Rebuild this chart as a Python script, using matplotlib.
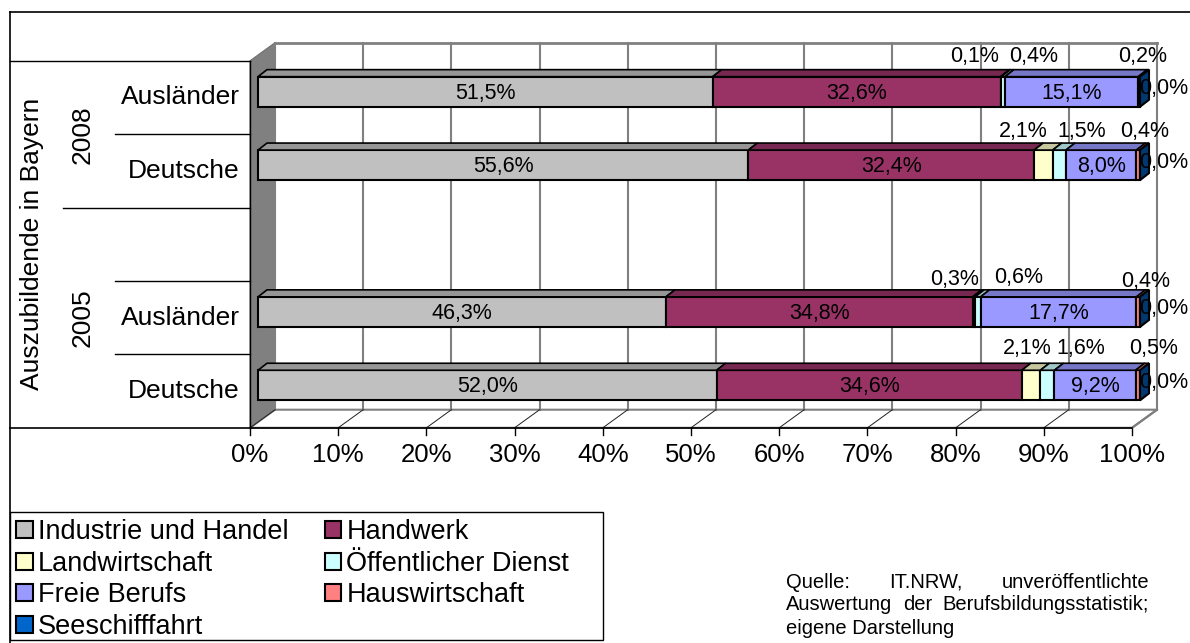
import numpy as np
import matplotlib
matplotlib.use('Agg')
import matplotlib.pyplot as plt
from matplotlib.patches import Polygon, Rectangle, Patch
from matplotlib.lines import Line2D
from matplotlib.transforms import IdentityTransform
from matplotlib.colors import to_rgb

plt.rcParams['font.family'] = ['Liberation Sans', 'DejaVu Sans']

# ---------------- data ----------------
categories = ['Ausländer', 'Deutsche', '', 'Ausländer', 'Deutsche']
group_labels = ['2008', '2005']
axis_title = 'Auszubildende in Bayern'
series = ['Industrie und Handel', 'Handwerk', 'Landwirtschaft',
          'Öffentlicher Dienst', 'Freie Berufs', 'Hauswirtschaft', 'Seeschifffahrt']
colors = ['#C0C0C0', '#993366', '#FFFFCC', '#CCFFFF', '#9999FF', '#FF8080', '#0066CC']

industrie = [51.5, 55.6, 0.0, 46.3, 52.0]
handwerk = [32.6, 32.4, 0.0, 34.8, 34.6]
landwirtschaft = [0.1, 2.1, 0.0, 0.3, 2.1]
oeffentlich = [0.4, 1.5, 0.0, 0.6, 1.6]
freie = [15.1, 8.0, 0.0, 17.7, 9.2]
hauswirtschaft = [0.2, 0.4, 0.0, 0.4, 0.5]
seeschifffahrt = [0.0, 0.0, 0.0, 0.0, 0.0]
values = [industrie, handwerk, landwirtschaft, oeffentlich, freie, hauswirtschaft, seeschifffahrt]

ticks = [0, 10, 20, 30, 40, 50, 60, 70, 80, 90, 100]
tick_labels = ['0%', '10%', '20%', '30%', '40%', '50%', '60%', '70%', '80%', '90%', '100%']
source_lines = [['Quelle:', 'IT.NRW,', 'unveröffentlichte'],
                ['Auswertung', 'der', 'Berufsbildungsstatistik;'],
                ['eigene Darstellung']]

# ---------------- layout / style ----------------
W, H = 1190, 643
fig = plt.figure(figsize=(W / 100, H / 100), dpi=100)
ax = fig.add_axes([258 / W, 1 - 422 / H, 882 / W, 367 / H])
ax.set_xlim(0, 100)
ax.set_ylim(4.5, -0.5)
ax.set_axis_off()
ax.set_zorder(2)

FRONT = (-8, -5.8)
BARBACK = (9, 7)
WALL = (17, 12.3)
BAR_H = 0.41
ID = IdentityTransform()
y_top, y_bot = -0.5, 4.5
FS_LAB = 15.5


def D(x, y, off=(0, 0)):
    px, py = ax.transData.transform((x, y))
    return (px + off[0], py + off[1])


def shade(c, f):
    r, g, b = to_rgb(c)
    return (r * f, g * f, b * f)


def line(p0, p1, **kw):
    ax.add_line(Line2D([p0[0], p1[0]], [p0[1], p1[1]], transform=ID, clip_on=False, **kw))


def poly(pts, **kw):
    ax.add_patch(Polygon(pts, closed=True, transform=ID, clip_on=False, **kw))


# outer frame (top and left)
fig.add_artist(Line2D([10, W + 5], [H - 12, H - 12], transform=ID, color='black', lw=1.2))
fig.add_artist(Line2D([10, 10], [H - 12, -5], transform=ID, color='black', lw=1.2))

# left wall
poly([D(0, y_top, FRONT), D(0, y_top, WALL), D(0, y_bot, WALL), D(0, y_bot, FRONT)],
     facecolor='#808080', edgecolor='#707070', lw=0.8, zorder=1)
# floor
poly([D(0, y_bot, FRONT), D(0, y_bot, WALL), D(100, y_bot, WALL), D(100, y_bot, FRONT)],
     facecolor='white', edgecolor='#808080', lw=1.5, zorder=1)
# back wall gridlines
for t in ticks:
    line(D(t, y_top, WALL), D(t, y_bot, WALL), color='#808080', lw=1.5, zorder=2)
    line(D(t, y_bot, FRONT), D(t, y_bot, WALL), color='#202020', lw=0.7, zorder=2)
    p = D(t, y_bot, FRONT)
    line(p, (p[0], p[1] - 7), color='black', lw=1.0, zorder=2)
line(D(0, y_top, WALL), D(100, y_top, WALL), color='#808080', lw=2, zorder=2)
line(D(100, y_bot, FRONT), D(100, y_bot, WALL), color='#808080', lw=1.5, zorder=2)

# label area box lines
ft = D(0, y_top, FRONT)
fb = D(0, y_bot, FRONT)
line((10, ft[1]), ft, color='black', lw=1.0, zorder=3)
line(ft, fb, color='black', lw=1.0, zorder=3)
line((10, fb[1]), D(100, y_bot, FRONT), color='black', lw=1.2, zorder=3)
for b in [0.5, 1.5, 2.5, 3.5]:
    p = D(0, b, FRONT)
    x0 = 63 if b == 1.5 else 115
    line((x0, p[1]), p, color='black', lw=1.0, zorder=3)

# ---------------- bars ----------------
rows = np.arange(len(categories))
data = np.array(values, dtype=float)
totals = data.sum(axis=0)
norm = np.where(totals > 0, data / np.where(totals > 0, totals, 1) * 100, 0)
lefts = np.vstack([np.zeros(len(rows)), np.cumsum(norm, axis=0)[:-1]])

# small label offsets (pixels): x from segment centre, y = baseline above bar top
small_off = {
    (0, 2): (-26, 14.3), (0, 3): (30, 14.3), (0, 5): (4, 14.3),
    (1, 2): (-20, 12.7), (1, 3): (22, 12.7), (1, 5): (6, 12.7),
    (3, 2): (-19, 12.3), (3, 3): (41, 14.3), (3, 5): (7, 10),
    (4, 2): (-4, 16.7), (4, 3): (33, 16.7), (4, 5): (16, 16.7),
}
valid = [r for r in rows if totals[r] > 0]

for si, (name, col) in enumerate(zip(series, colors)):
    ax.barh([rows[r] for r in valid], [norm[si][r] for r in valid],
            left=[lefts[si][r] for r in valid], height=BAR_H,
            color=col, edgecolor='black', linewidth=1.5, zorder=5, clip_on=False)

for r in valid:
    ytop = rows[r] - BAR_H / 2
    ybot = rows[r] + BAR_H / 2
    for si, col in enumerate(colors):
        x0 = lefts[si][r]
        x1 = x0 + norm[si][r]
        if norm[si][r] > 0:
            poly([D(x0, ytop), D(x1, ytop), D(x1, ytop, BARBACK), D(x0, ytop, BARBACK)],
                 facecolor=shade(col, 0.78), edgecolor='black', lw=1.2, zorder=5)
    # right side face of the bar end
    xe = lefts[-1][r] + norm[-1][r]
    poly([D(xe, ytop), D(xe, ytop, BARBACK), D(xe, ybot, BARBACK), D(xe, ybot)],
         facecolor=shade(colors[-1], 0.55), edgecolor='black', lw=1.5, zorder=6)
    # labels
    for si in range(len(series)):
        v = data[si][r]
        txt = f"{v:.1f}%".replace('.', ',')
        cx = lefts[si][r] + norm[si][r] / 2
        if si in (0, 1, 4):
            ax.annotate(txt, xy=(cx, rows[r]), xytext=(0, -7), textcoords='offset pixels',
                        ha='center', va='baseline', fontsize=FS_LAB, zorder=10,
                        annotation_clip=False)
        elif si == len(series) - 1:
            ax.annotate(txt, xy=(xe, rows[r]), xytext=(24, -2.5), textcoords='offset pixels',
                        ha='center', va='baseline', fontsize=FS_LAB, zorder=10,
                        annotation_clip=False)
        else:
            dx, dy = small_off[(r, si)]
            ax.annotate(txt, xy=(cx, ytop), xytext=(dx, dy), textcoords='offset pixels',
                        ha='center', va='baseline', fontsize=FS_LAB, zorder=10,
                        annotation_clip=False)

# category labels
for r, c in zip(rows, categories):
    if c:
        p = D(0, rows[r], FRONT)
        fig.text(p[0] - 10, p[1], c, ha='right', va='center', fontsize=19,
                 transform=ID)
# group labels
p08 = D(0, 0.5, FRONT)
p05 = D(0, 3.0, FRONT)
fig.text(83, p08[1], group_labels[0], rotation=90, ha='center', va='center',
         fontsize=19, transform=ID)
fig.text(83, p05[1], group_labels[1], rotation=90, ha='center', va='center',
         fontsize=19, transform=ID)
pm = D(0, 2.0, FRONT)
fig.text(32, pm[1], axis_title, rotation=90, ha='center', va='center',
         fontsize=19, transform=ID)

# tick labels
for t, lab in zip(ticks, tick_labels):
    p = D(t, y_bot, FRONT)
    fig.text(p[0], p[1] - 27, lab, ha='center', va='center', fontsize=18.5, transform=ID)

# ---------------- legend ----------------
fig.add_artist(Rectangle((10, H - 640), 593, 128, transform=ID, facecolor='white',
                         edgecolor='black', lw=1.0, zorder=1))
order = [0, 2, 4, 6, 1, 3, 5]
handles = [Patch(facecolor=colors[i], edgecolor='black', linewidth=1.5) for i in order]
labels = [series[i] for i in order]
leg = fig.legend(handles, labels, loc='upper left',
                 bbox_to_anchor=(11 / W, 1 - 514 / H), ncol=2, frameon=False,
                 fontsize=19.5, handlelength=0.6, handleheight=0.6, handletextpad=0.2,
                 labelspacing=0.2, columnspacing=1.33, borderpad=0.2, borderaxespad=0)
leg.set_zorder(3)

# ---------------- source text (justified) ----------------
renderer = fig.canvas.get_renderer()
x_left, x_right = 786, 1149
line_y = [H - 582, H - 605, H - 628]
for words, yy in zip(source_lines, line_y):
    ts = [fig.text(0, yy, w, ha='left', va='center', fontsize=14.5, transform=ID)
          for w in words]
    if len(ts) == 1:
        ts[0].set_x(x_left)
        continue
    widths = [t.get_window_extent(renderer).width for t in ts]
    gap = (x_right - x_left - sum(widths)) / (len(ts) - 1)
    x = x_left
    for t, w in zip(ts, widths):
        t.set_x(x)
        x += w + gap

fig.savefig('out.png', dpi=100)
